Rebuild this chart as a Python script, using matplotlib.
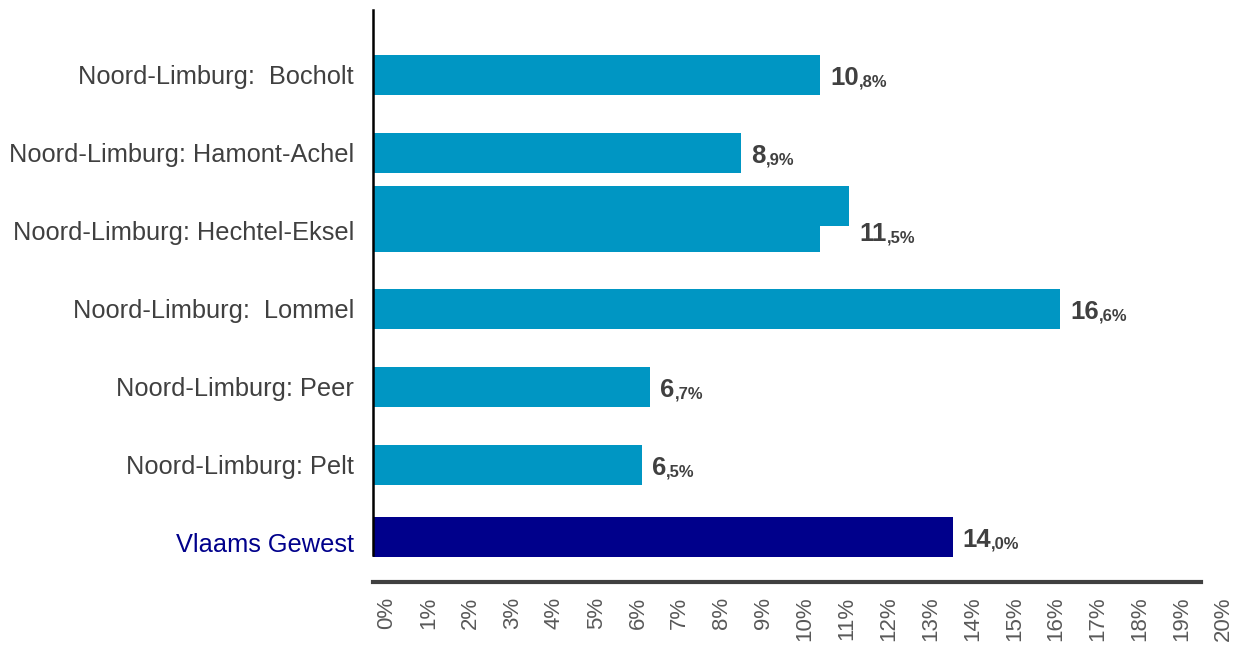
import numpy as np
import matplotlib
matplotlib.use('Agg')
import matplotlib.pyplot as plt
import matplotlib.transforms as mtransforms

plt.rcParams['font.family'] = ['Liberation Sans', 'DejaVu Sans']

# gegevens
gemeenten = ['Noord-Limburg:  Bocholt', 'Noord-Limburg: Hamont-Achel',
             'Noord-Limburg: Hechtel-Eksel', 'Noord-Limburg:  Lommel',
             'Noord-Limburg: Peer', 'Noord-Limburg: Pelt', 'Vlaams Gewest']
waarden = [10.8, 8.9, 11.5, 16.6, 6.7, 6.5, 14.0]
# tweede (overlappende) balk bij Hechtel-Eksel
hechtel_extra = 10.8
tick_waarden = list(range(0, 21))

blauw = '#0096C3'
donkerblauw = '#00008B'
grijs = '#404040'

fig = plt.figure(figsize=(12.36, 6.46), dpi=100)
ax = fig.add_axes([373 / 1236, 64 / 646, 828 / 1236, 572 / 646])

ylabels = np.arange(len(gemeenten), dtype=float)
ybalk = ylabels.copy()
ybalk[-1] -= 0.08
hoogte = 0.51

kleuren = [blauw] * (len(gemeenten) - 1) + [donkerblauw]
i_h = 2
for i, (y, w, c) in enumerate(zip(ybalk, waarden, kleuren)):
    if i == i_h:
        ax.barh(y + 0.01, hechtel_extra, height=hoogte, color=c, linewidth=0)
        ax.barh(y - 0.32, w, height=hoogte, color=c, linewidth=0)
    else:
        ax.barh(y, w, height=hoogte, color=c, linewidth=0)

# waardelabels: geheel deel groot, decimalen klein
for y, w in zip(ybalk, waarden):
    geheel, dec = f'{w:.1f}'.split('.')
    t = ax.annotate(geheel, xy=(w, y), xytext=(10, -3), textcoords='offset pixels',
                    fontsize=18.5, fontweight='bold', color=grijs,
                    ha='left', va='center')
    ax.annotate(',' + dec + '%', xy=(1, 0), xycoords=t, xytext=(0, 0),
                textcoords='offset points', fontsize=12, fontweight='bold',
                color=grijs, ha='left', va='bottom')

ax.set_yticks(ylabels)
ax.set_yticklabels(gemeenten, fontsize=18.3, color=grijs)
ax.get_yticklabels()[-1].set_color(donkerblauw)
ax.tick_params(axis='y', length=0, pad=13.5)

ax.set_xticks(tick_waarden)
ax.set_xticklabels([f'{v}%' for v in tick_waarden], rotation=90,
                   fontsize=16, color='#595959', va='top', ha='center')
ax.tick_params(axis='x', length=0, pad=10.5)
# schaallabels iets breder verdeeld dan de balkschaal
for v, lbl in zip(tick_waarden, ax.get_xticklabels()):
    dx = (14 + v * 0.42) / 100
    offset = mtransforms.ScaledTranslation(dx, 0, fig.dpi_scale_trans)
    lbl.set_transform(lbl.get_transform() + offset)

ax.set_xlim(0, 20)
ax.set_ylim(6.5, -0.833)

for s in ['top', 'right']:
    ax.spines[s].set_visible(False)
ax.spines['left'].set_color('black')
ax.spines['left'].set_linewidth(1.8)
ax.spines['left'].set_bounds(-0.833, 6.15)
ax.spines['bottom'].set_color(grijs)
ax.spines['bottom'].set_linewidth(3)

fig.savefig('out.png', dpi=100)
